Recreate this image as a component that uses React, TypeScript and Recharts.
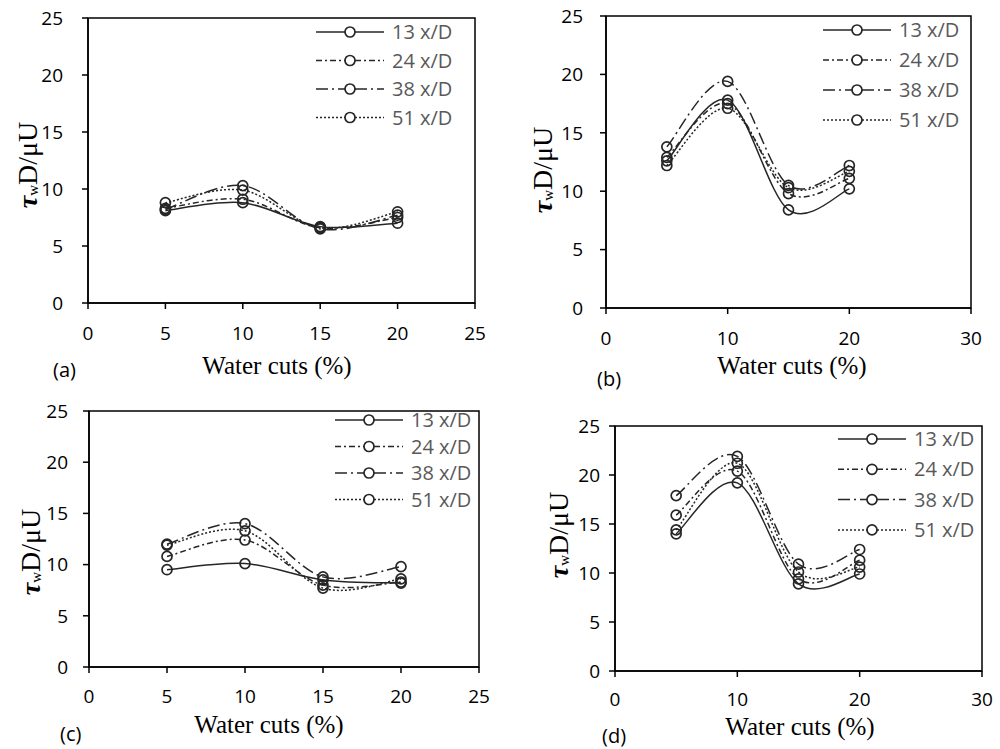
import React from "react";
import { Label, Legend, Line, LineChart, ReferenceArea, XAxis, YAxis } from "recharts";

const waterCuts = [5, 10, 15, 20];
const seriesNames = ["13 x/D", "24 x/D", "38 x/D", "51 x/D"];
const yTicks = [0, 5, 10, 15, 20, 25];

// panel (a)
const a13 = [8.1, 8.8, 6.7, 7.0];
const a24 = [8.3, 9.1, 6.6, 7.5];
const a38 = [8.2, 10.3, 6.5, 7.7];
const a51 = [8.8, 9.9, 6.6, 8.0];
// panel (b)
const b13 = [12.6, 17.8, 8.4, 10.2];
const b24 = [12.9, 17.5, 9.8, 11.1];
const b38 = [13.8, 19.4, 10.5, 12.2];
const b51 = [12.2, 17.1, 10.3, 11.7];
// panel (c)
const c13 = [9.5, 10.1, 8.5, 8.2];
const c24 = [10.8, 12.4, 8.0, 8.3];
const c38 = [12.0, 14.0, 8.8, 9.8];
const c51 = [11.9, 13.3, 7.7, 8.6];
// panel (d)
const d13 = [14.0, 19.2, 8.9, 9.9];
const d24 = [15.9, 20.4, 9.4, 11.3];
const d38 = [17.9, 21.9, 10.9, 12.4];
const d51 = [14.4, 21.2, 10.1, 10.6];

const ink = "#262626";
const dashes = ["0", "6 3 2 3", "12 4 2 4", "2 2"];
const sans = "'Open Sans', 'Noto Sans', sans-serif";
const serif = "'Liberation Serif', 'DejaVu Serif', serif";

// Excel-like smoothed line (Catmull-Rom through the points)
const excelSmooth = (context: any) => {
  let xs: number[] = [];
  let ys: number[] = [];
  return {
    areaStart() {},
    areaEnd() {},
    lineStart() {
      xs = [];
      ys = [];
    },
    point(x: number, y: number) {
      xs.push(+x);
      ys.push(+y);
    },
    lineEnd() {
      const n = xs.length;
      if (!n) return;
      context.moveTo(xs[0], ys[0]);
      for (let i = 0; i < n - 1; i++) {
        const p = Math.max(i - 1, 0);
        const q = Math.min(i + 2, n - 1);
        context.bezierCurveTo(
          xs[i] + (xs[i + 1] - xs[p]) / 6,
          ys[i] + (ys[i + 1] - ys[p]) / 6,
          xs[i + 1] - (xs[q] - xs[i]) / 6,
          ys[i + 1] - (ys[q] - ys[i]) / 6,
          xs[i + 1],
          ys[i + 1]
        );
      }
    },
  };
};

const panels = [
  {
    tag: "(a)", left: 0, top: 0, width: 500, height: 395,
    margin: { top: 18, right: 25, bottom: 52, left: 28 },
    xMax: 25, xTicks: [0, 5, 10, 15, 20, 25], yTickMargin: 19, xTickMargin: 18,
    values: [a13, a24, a38, a51],
    yLabel: [27, 165], title: [277, 374], tagPos: [53, 377], legend: [316, 32, 28.5],
  },
  {
    tag: "(b)", left: 500, top: 0, width: 500, height: 395,
    margin: { top: 16, right: 29, bottom: 47, left: 46 },
    xMax: 30, xTicks: [0, 10, 20, 30], yTickMargin: 17, xTickMargin: 18,
    values: [b13, b24, b38, b51],
    yLabel: [42, 170], title: [292, 374], tagPos: [97, 386], legend: [323, 30, 30],
  },
  {
    tag: "(c)", left: 0, top: 385, width: 500, height: 364,
    margin: { top: 26, right: 21, bottom: 42, left: 29 },
    xMax: 25, xTicks: [0, 5, 10, 15, 20, 25], yTickMargin: 15, xTickMargin: 17,
    values: [c13, c24, c38, c51],
    yLabel: [30, 167], title: [269, 348], tagPos: [60, 356], legend: [335, 35, 26.5],
  },
  {
    tag: "(d)", left: 500, top: 385, width: 500, height: 364,
    margin: { top: 41, right: 18, bottom: 38, left: 55 },
    xMax: 30, xTicks: [0, 10, 20, 30], yTickMargin: 9, xTickMargin: 16,
    values: [d13, d24, d38, d51],
    yLabel: [58, 150], title: [300, 350], tagPos: [102, 358], legend: [338, 54, 30.3],
  },
];

function LegendBox({ gap }: { gap: number }) {
  return (
    <svg width={150} height={gap * 3 + 30}>
      {seriesNames.map((name, i) => {
        const y = 14 + i * gap;
        return (
          <g key={name}>
            <line x1={0} x2={29} y1={y} y2={y} stroke={ink} strokeWidth={1.5} strokeDasharray={dashes[i]} />
            <line x1={39} x2={68} y1={y} y2={y} stroke={ink} strokeWidth={1.5} strokeDasharray={dashes[i]} />
            <circle cx={34} cy={y} r={5} fill="none" stroke={ink} strokeWidth={1.7} />
            <text x={76} y={y + 7} fontFamily={sans} fontSize={20} fill="#595959">
              {name}
            </text>
          </g>
        );
      })}
    </svg>
  );
}

function Panel({ p }: { p: (typeof panels)[number] }) {
  const data = waterCuts.map((w, i) => ({
    w,
    s0: p.values[0][i],
    s1: p.values[1][i],
    s2: p.values[2][i],
    s3: p.values[3][i],
  }));
  const tickStyle = { fill: "#000", fontSize: 19, fontFamily: sans };
  return (
    <div style={{ position: "absolute", left: p.left, top: p.top }}>
      <LineChart width={p.width} height={p.height} data={data} margin={p.margin}>
        <XAxis
          dataKey="w"
          type="number"
          domain={[0, p.xMax]}
          ticks={p.xTicks}
          interval={0}
          height={40}
          tickSize={6}
          tickMargin={p.xTickMargin}
          tick={tickStyle}
          axisLine={{ stroke: "#000", strokeWidth: 1.5 }}
          tickLine={{ stroke: "#000", strokeWidth: 1.5 }}
        >
          <Label
            content={() => (
              <g>
                <text x={p.title[0]} y={p.title[1]} textAnchor="middle" fontFamily={serif} fontSize={25} fill="#000">
                  Water cuts (%)
                </text>
                <text x={p.tagPos[0]} y={p.tagPos[1]} fontFamily={sans} fontSize={20} fill="#000">
                  {p.tag}
                </text>
              </g>
            )}
          />
        </XAxis>
        <YAxis
          type="number"
          domain={[0, 25]}
          ticks={yTicks}
          interval={0}
          width={60}
          tickSize={6}
          tickMargin={p.yTickMargin}
          tick={tickStyle}
          axisLine={{ stroke: "#000", strokeWidth: 1.5 }}
          tickLine={{ stroke: "#000", strokeWidth: 1.5 }}
        >
          <Label
            content={() => (
              <text
                x={p.yLabel[0]}
                y={p.yLabel[1]}
                transform={`rotate(-90 ${p.yLabel[0]} ${p.yLabel[1]})`}
                textAnchor="middle"
                dominantBaseline="central"
                fontFamily={serif}
                fontSize={28}
                fill="#000"
              >
                <tspan fontWeight="bold" fontStyle="italic">τ</tspan>
                <tspan fontSize={15} dy={6}>w</tspan>
                <tspan dy={-6}>D/μU</tspan>
              </text>
            )}
          />
        </YAxis>
        <ReferenceArea x1={0} x2={p.xMax} y1={0} y2={25} fill="none" stroke="#000" strokeWidth={1.5} />
        {seriesNames.map((name, i) => (
          <Line
            key={name}
            name={name}
            dataKey={`s${i}`}
            type={excelSmooth as any}
            stroke={ink}
            strokeWidth={1.5}
            strokeDasharray={dashes[i]}
            dot={{ r: 5, fill: "none", stroke: ink, strokeWidth: 1.7, strokeDasharray: "none" }}
            isAnimationActive={false}
          />
        ))}
        <Legend
          layout="vertical"
          align="center"
          verticalAlign="middle"
          wrapperStyle={{ left: p.legend[0], top: p.legend[1] - 14, width: 150 }}
          content={() => <LegendBox gap={p.legend[2]} />}
        />
      </LineChart>
    </div>
  );
}

export default function App() {
  return (
    <div style={{ position: "absolute", left: 0, top: 0, width: 1000, height: 749, background: "#fff" }}>
      {panels.map((p) => (
        <Panel key={p.tag} p={p} />
      ))}
    </div>
  );
}
